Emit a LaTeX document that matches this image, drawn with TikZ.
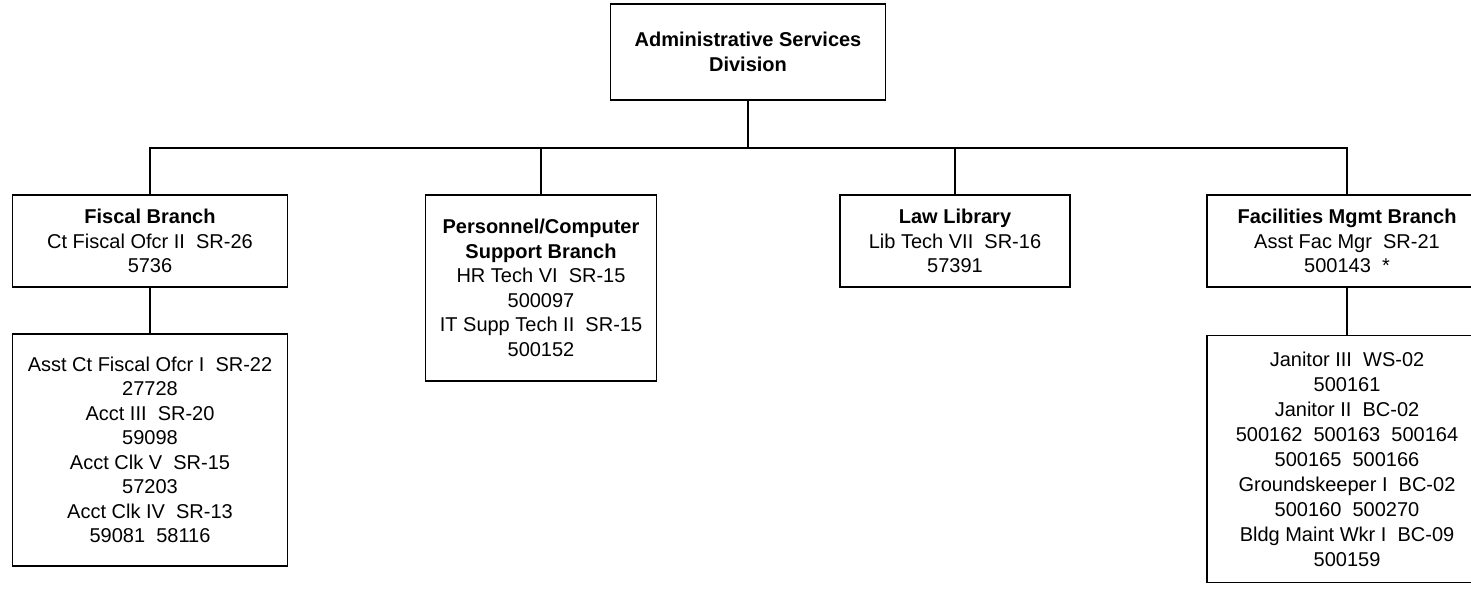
\documentclass[tikz,border=0pt]{standalone}
\usepackage{fontspec}
\setmainfont{Liberation Sans}
\usepackage{tikz}
\usetikzlibrary{positioning,calc}

\begin{document}
\begin{tikzpicture}[x=1pt,y=-1pt,
  unit/.style={draw, line width=1.1pt, align=center, inner sep=2pt,
    font=\fontsize{20}{24.5}\selectfont},
  link/.style={line width=1.1pt}]
  \useasboundingbox (0,0) rectangle (1471,592);
  \node[unit, minimum width=275pt, minimum height=96pt] (asd) at (748,52)
    {\textbf{Administrative Services}\\\textbf{Division}};
  \coordinate (bus) at (748,148);
  % branches
  \node[unit, minimum width=275pt, minimum height=92pt] (fisc) at (150,241)
    {\textbf{Fiscal Branch}\\Ct Fiscal Ofcr II~~SR-26\\5736};
  \node[unit, minimum width=231pt, minimum height=186pt] (pers) at (541,288)
    {\textbf{Personnel/Computer}\\\textbf{Support Branch}\\HR Tech VI~~SR-15\\500097\\IT Supp Tech II~~SR-15\\500152};
  \node[unit, minimum width=230pt, minimum height=92pt] (law) at (955,241)
    {\textbf{Law Library}\\Lib Tech VII~~SR-16\\57391};
  \node[unit, minimum width=280pt, minimum height=92pt] (fac) at (1347,241)
    {\textbf{Facilities Mgmt Branch}\\Asst Fac Mgr~~SR-21\\500143~~*};
  % staff under the branches
  \node[unit, minimum width=275pt, minimum height=232pt] (fiscstaff) at (150,450)
    {Asst Ct Fiscal Ofcr I~~SR-22\\27728\\Acct III~~SR-20\\59098\\Acct Clk V~~SR-15\\57203\\Acct Clk IV~~SR-13\\59081~~58116};
  \node[unit, minimum width=280pt, minimum height=247pt, font=\fontsize{20}{25}\selectfont] (facstaff) at (1347,459)
    {Janitor III~~WS-02\\500161\\Janitor II~~BC-02\\500162~~500163~~500164\\500165~~500166\\Groundskeeper I~~BC-02\\500160~~500270\\Bldg Maint Wkr I~~BC-09\\500159};
  \draw[link] (asd) -- (bus);
  \draw[link] (bus) -| (fisc.north);
  \draw[link] (bus) -| (pers.north);
  \draw[link] (bus) -| (law.north);
  \draw[link] (bus) -| (fac.north);
  \draw[link] (fisc) -- (fiscstaff);
  \draw[link] (fac) -- (facstaff);
\end{tikzpicture}
\end{document}
